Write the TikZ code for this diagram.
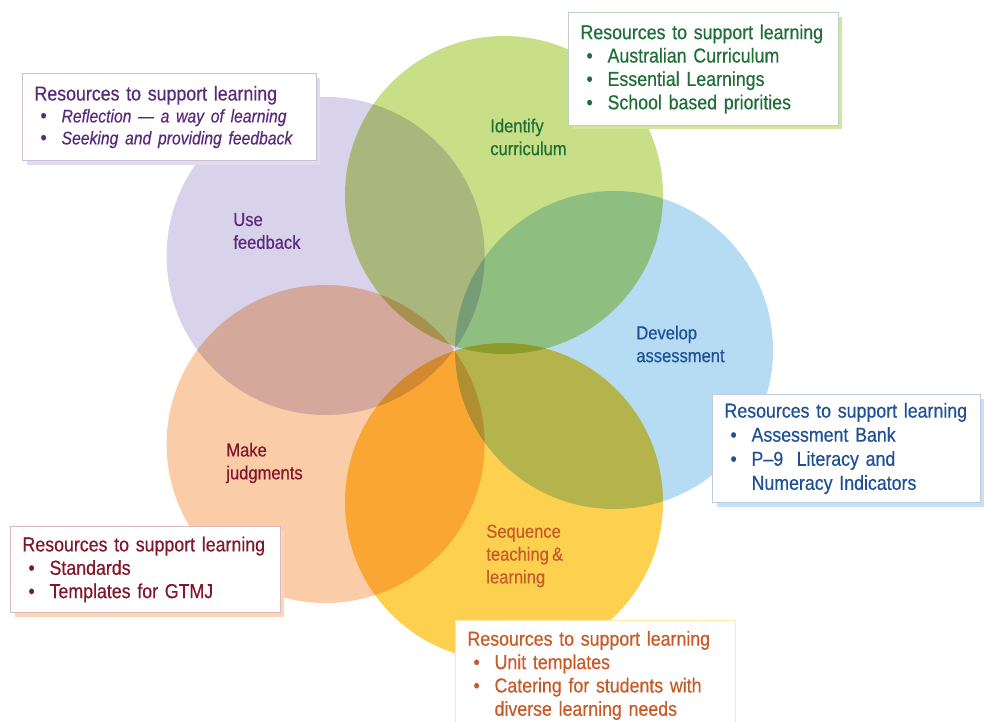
\documentclass[tikz,border=0pt]{standalone}
\usepackage{fontspec}
\setmainfont{Liberation Sans}[FakeStretch=0.88, WordSpace=0.7, FakeBold=0.4]
\newfontfamily\itfam{Liberation Sans}[FakeStretch=0.86, WordSpace=0.7, FakeBold=0.4, Ligatures=TeX]
\usetikzlibrary{shadows}

\definecolor{cgreen}{HTML}{C8DE87}
\definecolor{cpurple}{HTML}{D8D2EB}
\definecolor{cblue}{HTML}{B6DCF3}
\definecolor{cyellow}{HTML}{FDD050}
\definecolor{cpeach}{HTML}{FBCCA8}
\definecolor{tgreen}{HTML}{1E6E36}
\definecolor{tpurple}{HTML}{5A2A7A}
\definecolor{tblue}{HTML}{1F5096}
\definecolor{tmaroon}{HTML}{82162A}
\definecolor{torange}{HTML}{C85A28}

\newcommand{\itm}{\makebox[15.4pt][l]{\hspace{3.4pt}\textbullet}}
\newcommand{\itmgap}{\hspace*{15.4pt}}

\begin{document}
\begin{tikzpicture}[x=0.02cm,y=-0.02cm,
  res/.style={draw=#1!30, fill=white, line width=0.6pt, anchor=north west,
    align=left, text=#1, inner xsep=0.24cm, inner ysep=0pt,
    font=\fontsize{11.5}{13.3}\selectfont},
  shade/.style={drop shadow={shadow xshift=0.08cm, shadow yshift=-0.08cm, fill=#1, opacity=1}},
  lbl/.style={anchor=west, align=left, inner sep=0pt, text=#1,
    font=\fontsize{10.7}{13}\selectfont}]
\useasboundingbox (0,0) rectangle (984,722);

\begin{scope}[blend group=multiply]
\fill[cgreen]  (504,195)   circle (159);
\fill[cpurple] (325.6,256) circle (159);
\fill[cpeach]  (325.6,444) circle (159);
\fill[cyellow] (504,502)   circle (159);
\fill[cblue]   (614,350)   circle (159);
\end{scope}

\node[lbl=tgreen]   (identify) at (490,137) {Identify\\curriculum};
\node[lbl=tpurple]  (use)      at (233,231) {Use\\feedback};
\node[lbl=tblue]    (develop)  at (636,344) {Develop\\assessment};
\node[lbl=tmaroon]  (make)     at (226,463) {Make\\judgments};
\node[lbl=torange]  (sequence) at (486,556) {Sequence\\teaching \&\\learning};

\node[res=tgreen, shade=cgreen!80, minimum width=5.4cm, minimum height=2.26cm, text width=4.92cm]
  (resgreen) at (568,12) {Resources to support learning\\
  \itm Australian Curriculum\\ \itm Essential Learnings\\ \itm School based priorities};
\node[res=tpurple, shade=cpurple!80, minimum width=5.88cm, minimum height=1.74cm, text width=5.4cm,
  font=\fontsize{11.5}{12.5}\selectfont]
  (respurple) at (22,73) {Resources to support learning\\
  \itm{\itfam\fontsize{10.4}{12.5}\selectfont\itshape Reflection — a way of learning}\\
  \itm{\itfam\fontsize{10.4}{12.5}\selectfont\itshape Seeking and providing feedback}};
\node[res=tblue, shade=cblue!80, minimum width=5.36cm, minimum height=2.16cm, text width=4.88cm,
  font=\fontsize{11.5}{13.7}\selectfont]
  (resblue) at (712,394) {Resources to support learning\\
  \itm Assessment Bank\\ \itm P--9\ \ Literacy and\\ \itmgap Numeracy Indicators};
\node[res=tmaroon, shade=cpeach!80, minimum width=5.4cm, minimum height=1.72cm, text width=4.92cm]
  (resmaroon) at (10,526) {Resources to support learning\\
  \itm Standards\\ \itm Templates for GTMJ};
\node[res=torange, draw=cyellow!45, minimum width=5.6cm, minimum height=2.2cm, text width=5.12cm]
  (resorange) at (455,620) {Resources to support learning\\
  \itm Unit templates\\ \itm Catering for students with\\ \itmgap diverse learning needs};
\end{tikzpicture}
\end{document}
